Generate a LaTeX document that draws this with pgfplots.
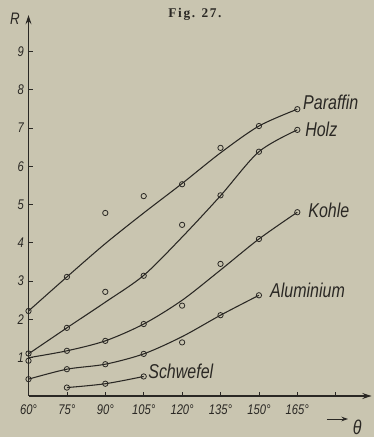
\documentclass[border=0pt]{standalone}
\usepackage{pgfplots}
\pgfplotsset{compat=1.18}
\usetikzlibrary{arrows.meta}
\usepackage{fontspec}
\setmainfont{Liberation Serif}
\newfontfamily\lab[FakeStretch=0.8]{Liberation Sans}
\newfontfamily\titlefont[LetterSpace=12]{Liberation Serif Bold}
\definecolor{bg}{RGB}{201,197,176}
\definecolor{ink}{RGB}{42,40,36}
\begin{document}
\begin{tikzpicture}
\fill[bg] (0,0) rectangle (280.5pt,327.75pt);
\path[use as bounding box] (0,0) rectangle (280.5pt,327.75pt);
\begin{axis}[
  at={(21.375pt,30.75pt)}, anchor=south west,
  scale only axis, width=257.3pt, height=285.75pt,
  xmin=60, xmax=194, ymin=0, ymax=9.95,
  enlargelimits=false,
  axis lines=left,
  axis line style={ink, line width=0.8pt, -{Stealth[length=7pt,width=4.5pt,inset=2.5pt]}},
  xtick={60,75,90,105,120,135,150,165,180},
  xticklabels={60°,75°,90°,105°,120°,135°,150°,165°,{}},
  ytick={1,2,3,4,5,6,7,8,9},
  yticklabels={1,2,3,4,5,6,7,8,9},
  tick align=inside, major tick length=3pt,
  tick style={ink, line width=0.6pt},
  ticklabel style={font=\lab\itshape\fontsize{10.5}{12}\selectfont, text=ink},
  xticklabel style={yshift=-3pt},
  clip=false,
  every axis plot/.append style={ink, line width=0.8pt},
]
% Paraffin
\addplot[smooth, no marks] coordinates {(60,2.22)(75,3.11)(90,3.98)(105,4.78)(120,5.55)(135,6.35)(150,7.05)(165,7.49)};
\addplot[only marks, mark=o, mark size=2pt, mark options={fill=bg, line width=0.6pt}] coordinates {(60,2.22)(75,3.11)(90,4.78)(105,5.22)(120,5.53)(135,6.48)(150,7.05)(165,7.49)};
% Holz
\addplot[smooth, no marks] coordinates {(60,1.1)(75,1.78)(90,2.45)(105,3.15)(120,4.15)(135,5.23)(150,6.38)(165,6.95)};
\addplot[only marks, mark=o, mark size=2pt, mark options={fill=bg, line width=0.6pt}] coordinates {(60,1.11)(75,1.78)(90,2.72)(105,3.14)(120,4.47)(135,5.24)(150,6.38)(165,6.95)};
% Kohle
\addplot[smooth, no marks] coordinates {(60,1.0)(75,1.18)(90,1.44)(105,1.88)(120,2.5)(135,3.29)(150,4.10)(165,4.80)};
\addplot[only marks, mark=o, mark size=2pt, mark options={fill=bg, line width=0.6pt}] coordinates {(60,0.92)(75,1.18)(90,1.44)(105,1.88)(120,2.36)(135,3.45)(150,4.10)(165,4.80)};
% Aluminium
\addplot[smooth, no marks] coordinates {(60,0.44)(75,0.70)(90,0.83)(105,1.10)(120,1.55)(135,2.11)(150,2.63)};
\addplot[only marks, mark=o, mark size=2pt, mark options={fill=bg, line width=0.6pt}] coordinates {(60,0.44)(75,0.70)(90,0.83)(105,1.10)(120,1.40)(135,2.11)(150,2.63)};
% Schwefel
\addplot[smooth, no marks] coordinates {(75,0.22)(90,0.32)(105,0.51)};
\addplot[only marks, mark=o, mark size=2pt, mark options={fill=bg, line width=0.6pt}] coordinates {(75,0.22)(90,0.32)(105,0.51)};

\begin{scope}[every node/.style={font=\lab\itshape\fontsize{15}{18}\selectfont, text=ink, anchor=base west, inner sep=0pt}]
\node at (axis cs:167.2,7.47) {Paraffin};
\node at (axis cs:168.0,6.77) {Holz};
\node at (axis cs:169.2,4.65) {Kohle};
\node at (axis cs:154.3,2.58) {Aluminium};
\node at (axis cs:106.7,0.47) {Schwefel};
\end{scope}
\end{axis}
\node[font=\lab\itshape\fontsize{12.5}{14}\selectfont, text=ink] at (11.25pt,313.5pt) {R};
\node[font=\lab\itshape\fontsize{15}{17}\selectfont, text=ink] at (268pt,7pt) {θ};
\draw[ink, line width=0.7pt, -{Stealth[length=5pt,width=3.5pt,inset=1.8pt]}] (245.25pt,13.5pt) -- (261pt,13.5pt);
\node[font=\titlefont\fontsize{10}{12}\selectfont, text=ink] at (146.25pt,317.25pt) {Fig. 27.};
\end{tikzpicture}
\end{document}
